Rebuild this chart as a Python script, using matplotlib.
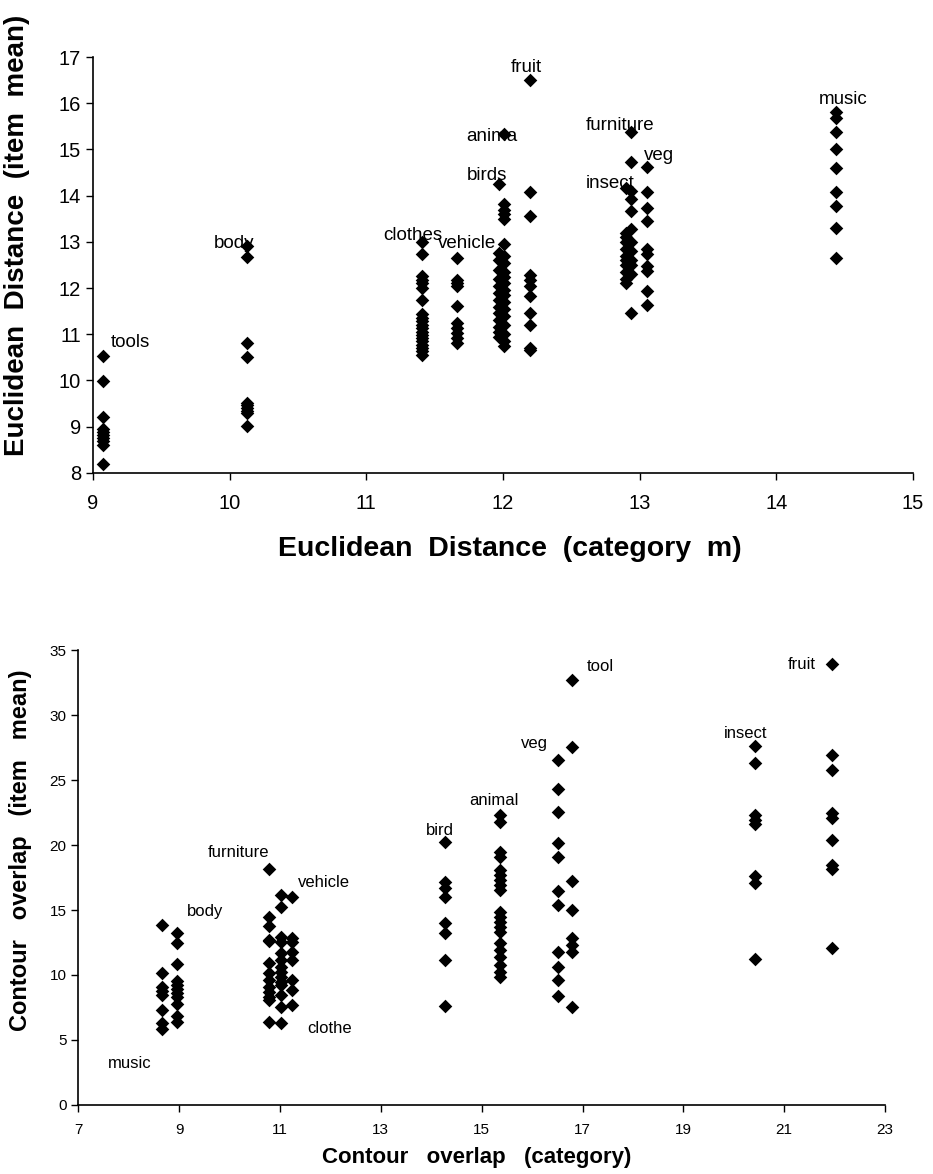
import matplotlib
matplotlib.use("Agg")
import matplotlib.pyplot as plt

plt.rcParams['font.family'] = ['Liberation Sans', 'DejaVu Sans']

# ---------------- Top chart data: Euclidean distance ----------------
top_categories = ["tools", "body", "clothes", "vehicle", "birds", "animal",
                  "fruit", "insect", "furniture", "veg", "music"]
top_cat_x = [9.075, 10.13, 11.41, 11.66, 11.97, 12.01, 12.20, 12.90, 12.94, 13.05, 14.44]
top_tools = [10.52, 9.98, 9.20, 8.95, 8.88, 8.82, 8.75, 8.68, 8.60, 8.19]
top_body = [12.92, 12.67, 10.81, 10.50, 9.52, 9.46, 9.40, 9.35, 9.30, 9.02]
top_clothes = [12.99, 12.73, 12.26, 12.18, 12.11, 12.00, 11.75, 11.43, 11.35, 11.28,
               11.21, 11.14, 11.06, 10.99, 10.92, 10.85, 10.77, 10.70, 10.63, 10.56]
top_vehicle = [12.65, 12.18, 12.11, 12.04, 11.62, 11.25, 11.14, 11.03, 10.92, 10.81]
top_birds = [14.25, 12.76, 12.60, 12.40, 12.20, 12.05, 11.90, 11.75, 11.60, 11.45,
             11.30, 11.15, 11.05, 10.95]
top_animal = [15.33, 13.81, 13.70, 13.60, 13.49, 12.96, 12.70, 12.55, 12.35, 12.25,
              12.10, 11.95, 11.85, 11.70, 11.55, 11.40, 11.20, 11.00, 10.85, 10.75]
top_fruit = [16.50, 14.09, 13.57, 12.29, 12.18, 12.04, 11.82, 11.46, 11.21, 10.70, 10.67]
top_insect = [14.17, 13.20, 13.10, 13.00, 12.85, 12.70, 12.60, 12.50, 12.35, 12.20, 12.10]
top_furniture = [15.37, 14.72, 14.10, 13.92, 13.67, 13.27, 13.00, 12.80, 12.60, 12.50,
                 12.30, 11.46]
top_veg = [14.61, 14.07, 13.74, 13.45, 12.84, 12.73, 12.47, 12.36, 11.93, 11.64]
top_music = [15.81, 15.69, 15.38, 15.00, 14.60, 14.08, 13.77, 13.29, 12.66]
top_values = [top_tools, top_body, top_clothes, top_vehicle, top_birds, top_animal,
              top_fruit, top_insect, top_furniture, top_veg, top_music]

top_label_text = ["tools", "body", "clothes", "vehicle", "anima", "birds",
                  "fruit", "furniture", "insect", "veg", "music"]
top_label_x = [9.27, 10.03, 11.34, 11.74, 11.92, 11.88, 12.17, 12.86, 12.78, 13.14, 14.49]
top_label_y = [10.82, 12.96, 13.14, 12.96, 15.29, 14.43, 16.78, 15.51, 14.27, 14.87, 16.09]

top_xticks = [9, 10, 11, 12, 13, 14, 15]
top_yticks = [8, 9, 10, 11, 12, 13, 14, 15, 16, 17]

# ---------------- Bottom chart data: Contour overlap ----------------
bot_categories = ["music", "body", "furniture", "clothe", "vehicle", "bird",
                  "animal", "veg", "tool", "insect", "fruit"]
bot_cat_x = [8.67, 8.96, 10.79, 11.03, 11.24, 14.27, 15.36, 16.51, 16.80, 20.43, 21.94]
bot_music = [13.85, 10.13, 9.10, 8.80, 8.46, 7.31, 6.29, 5.85]
bot_body = [13.26, 12.44, 10.82, 9.53, 9.23, 8.90, 8.59, 8.28, 7.77, 6.87, 6.40]
bot_furniture = [18.13, 14.44, 13.77, 12.69, 12.60, 10.90, 10.13, 9.62, 9.10, 8.72,
                 8.33, 8.08, 6.41]
bot_clothe = [16.15, 15.26, 12.90, 12.50, 11.67, 11.15, 10.64, 10.25, 9.87, 9.48,
              9.20, 8.46, 7.51, 6.28]
bot_vehicle = [15.97, 12.82, 12.50, 11.79, 11.15, 9.62, 8.85, 7.69]
bot_bird = [20.26, 17.18, 16.67, 16.03, 13.98, 13.21, 11.15, 7.60]
bot_animal = [22.31, 21.80, 19.49, 19.10, 18.08, 17.69, 17.31, 16.92, 16.54, 14.87,
              14.49, 14.10, 13.72, 13.33, 12.44, 11.92, 11.41, 10.77, 10.25, 9.87]
bot_veg = [26.54, 24.28, 22.56, 20.18, 19.10, 16.48, 15.38, 11.79, 10.64, 9.62, 8.40]
bot_tool = [32.69, 27.51, 17.25, 15.00, 12.82, 12.31, 11.79, 7.56]
bot_insect = [27.62, 26.33, 22.31, 21.92, 21.60, 17.62, 17.05, 11.21]
bot_fruit = [33.92, 26.92, 25.77, 22.44, 22.05, 20.38, 18.46, 18.13, 12.05]
bot_values = [bot_music, bot_body, bot_furniture, bot_clothe, bot_vehicle, bot_bird,
              bot_animal, bot_veg, bot_tool, bot_insect, bot_fruit]

bot_label_text = ["music", "body", "furniture", "clothe", "vehicle", "bird",
                  "animal", "veg", "tool", "insect", "fruit"]
bot_label_x = [8.03, 9.51, 10.17, 11.99, 11.87, 14.17, 15.24, 16.05, 17.35, 20.24, 21.35]
bot_label_y = [3.2, 14.9, 19.4, 5.85, 17.1, 21.1, 23.4, 27.8, 33.7, 28.6, 33.85]

bot_xticks = [7, 9, 11, 13, 15, 17, 19, 21, 23]
bot_yticks = [0, 5, 10, 15, 20, 25, 30, 35]

# ---------------- Figure ----------------
fig = plt.figure(figsize=(9.33, 11.74), dpi=100)

def style_axes(ax):
    for s in ("top", "right"):
        ax.spines[s].set_visible(False)
    for s in ("left", "bottom"):
        ax.spines[s].set_color("black")
        ax.spines[s].set_linewidth(1.2)
    ax.tick_params(direction="out", length=5, width=1, colors="black")

# Top axes
ax1 = fig.add_axes([0.0997, 0.5972, 0.8789, 0.3542])
for cx, vals in zip(top_cat_x, top_values):
    ax1.scatter([cx] * len(vals), vals, marker="D", s=48, color="black",
                linewidths=0, zorder=3)
for t, x, y in zip(top_label_text, top_label_x, top_label_y):
    ax1.text(x, y, t, ha="center", va="center", fontsize=13.5, color="black", zorder=4)
ax1.set_xlim(9, 15)
ax1.set_ylim(8, 17)
ax1.set_xticks(top_xticks)
ax1.set_xticklabels([str(v) for v in top_xticks], fontsize=14.5)
ax1.set_yticks(top_yticks)
ax1.set_yticklabels([str(v) for v in top_yticks], fontsize=14.5)
style_axes(ax1)
ax1.tick_params(axis="x", pad=10)
ax1.set_xlabel("Euclidean  Distance  (category  m)", fontsize=20.5, fontweight="bold")
ax1.set_ylabel("Euclidean  Distance  (item  mean)", fontsize=20, fontweight="bold")
ax1.xaxis.set_label_coords(0.508, -0.152)
ax1.yaxis.set_label_coords(-0.077, 0.57)

# Bottom axes
ax2 = fig.add_axes([0.0839, 0.0588, 0.8647, 0.3875])
for cx, vals in zip(bot_cat_x, bot_values):
    ax2.scatter([cx] * len(vals), vals, marker="D", s=48, color="black",
                linewidths=0, zorder=3)
for t, x, y in zip(bot_label_text, bot_label_x, bot_label_y):
    ax2.text(x, y, t, ha="center", va="center", fontsize=12, color="black", zorder=4)
ax2.set_xlim(7, 23)
ax2.set_ylim(0, 35)
ax2.set_xticks(bot_xticks)
ax2.set_xticklabels([str(v) for v in bot_xticks], fontsize=11)
ax2.set_yticks(bot_yticks)
ax2.set_yticklabels([str(v) for v in bot_yticks], fontsize=11)
style_axes(ax2)
ax2.tick_params(axis="x", pad=8)
ax2.set_xlabel("Contour   overlap   (category)", fontsize=16, fontweight="bold")
ax2.set_ylabel("Contour   overlap   (item   mean)", fontsize=17, fontweight="bold")
ax2.xaxis.set_label_coords(0.494, -0.092)
ax2.yaxis.set_label_coords(-0.057, 0.56)

fig.savefig("out.png", dpi=100)
